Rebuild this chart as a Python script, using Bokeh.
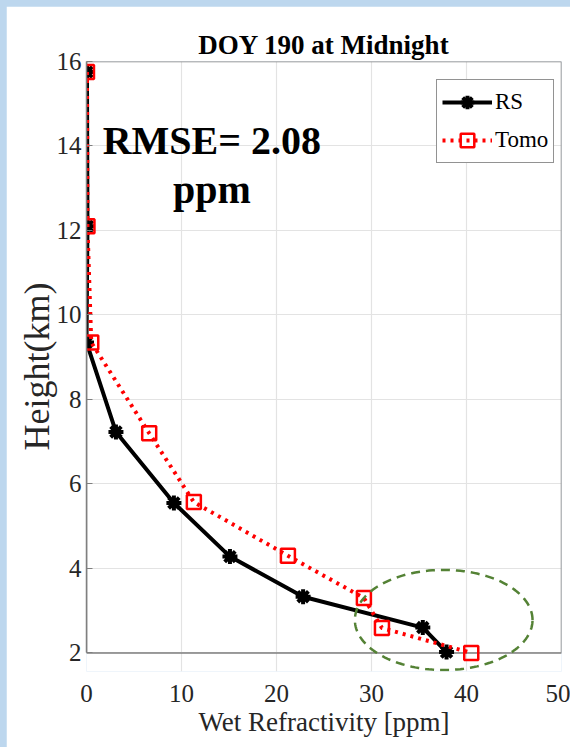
import numpy as np
from bokeh.plotting import figure
from bokeh.models import (Legend, LegendItem, PolyAnnotation, BoxAnnotation,
                          FixedTicker, Range1d)
from bokeh.layouts import column
from bokeh.embed import file_html
from bokeh.resources import INLINE
from bokeh.core.properties import value

# ---- data ----
rs_wet = [0.05, 0.1, 0.0, 3.1, 9.2, 15.1, 22.8, 35.4, 37.9]
rs_height = [15.75, 12.1, 9.35, 7.23, 5.55, 4.28, 3.33, 2.6, 2.02]
tomo_wet = [0.05, 0.1, 0.5, 6.6, 11.3, 21.2, 29.2, 31.1, 40.5]
tomo_height = [15.75, 12.1, 9.35, 7.2, 5.57, 4.3, 3.3, 2.59, 2.0]

x_ticks = [0, 10, 20, 30, 40, 50]
y_ticks = [2, 4, 6, 8, 10, 12, 14, 16]
x_lim = (0, 50)
y_lim = (2, 16)

title_text = "DOY 190 at Midnight"
x_label = "Wet Refractivity [ppm]"
y_label = "Height(km)"
series_names = ["RS", "Tomo"]

rmse_text = ["RMSE= 2.08", "ppm"]
rmse_x = [13.2, 13.2]
rmse_y = [14.14, 12.96]

# highlighted region (dashed ellipse, reaches below the axis)
ell_cx, ell_cy = 37.6, 2.78
ell_w, ell_h = 18.7, 2.37

SERIF = "Liberation Serif"
AX_GRAY = "#7f7f7f"
TXT = "#262626"

# the frame extends a little below y=2 so the ellipse is not cut off;
# the visible axes box is drawn from x_lim / y_lim
y_pad = 0.44

p = figure(frame_width=475, frame_height=610,
           x_range=Range1d(*x_lim), y_range=Range1d(y_lim[0] - y_pad, y_lim[1]),
           output_backend="svg", toolbar_location=None,
           min_border_left=80, min_border_right=9,
           min_border_top=55, min_border_bottom=76,
           title=title_text,
           x_axis_label=x_label, y_axis_label=y_label)
p.background_fill_color = "white"
p.border_fill_color = "white"
p.outline_line_color = None

p.title.text_font = SERIF
p.title.text_font_size = "27px"
p.title.text_font_style = "bold"
p.title.text_color = "black"
p.title.align = "center"
p.title.standoff = 3

xa = p.xaxis[0]
ya = p.yaxis[0]
for ax in (xa, ya):
    ax.major_label_text_font = SERIF
    ax.major_label_text_color = TXT
    ax.axis_label_text_font = SERIF
    ax.axis_label_text_color = TXT
    ax.axis_label_text_font_style = "normal"
    ax.major_label_text_font_size = "25px"
    ax.minor_tick_line_color = None
    ax.major_tick_line_color = AX_GRAY
    ax.major_tick_out = 0

xa.ticker = FixedTicker(ticks=x_ticks)
xa.axis_line_color = None
xa.major_tick_in = 0
xa.major_label_standoff = 13
xa.axis_label_text_font_size = "27px"
xa.axis_label_standoff = 2

ya.ticker = FixedTicker(ticks=y_ticks)
ya.bounds = y_lim
ya.axis_line_color = AX_GRAY
ya.axis_line_width = 1.5
ya.major_tick_in = 6
ya.major_label_standoff = 5
ya.axis_label_text_font_size = "36px"
ya.axis_label_standoff = -3

p.xgrid.ticker = FixedTicker(ticks=x_ticks)
p.ygrid.ticker = FixedTicker(ticks=y_ticks)
p.xgrid.bounds = y_lim
p.xgrid.grid_line_color = "#e3e3e3"
p.ygrid.grid_line_color = "#e3e3e3"
p.xgrid.grid_line_width = 1.2
p.ygrid.grid_line_width = 1.2

# axes box
p.add_layout(BoxAnnotation(left=x_lim[0], right=x_lim[1], bottom=y_lim[0], top=y_lim[1],
                           fill_color=None, fill_alpha=0, line_color=AX_GRAY,
                           line_alpha=1.0, line_width=1.5, level="underlay"))

rs_line = p.line(rs_wet, rs_height, line_color="black", line_width=4)
rs_pts = p.scatter(rs_wet, rs_height, marker="asterisk", size=15,
                   line_color="black", line_width=4)
tomo_line = p.line(tomo_wet, tomo_height, line_color="#ff0000", line_width=4,
                   line_dash="3 5")
tomo_pts = p.scatter(tomo_wet, tomo_height, marker="square", size=14,
                     line_color="#ff0000", line_width=2.5, fill_color="white",
                     fill_alpha=0.0)

p.text(x=rmse_x, y=rmse_y, text=rmse_text, text_font=value(SERIF),
       text_font_style="bold", text_font_size="40px", text_color="black",
       text_align="center", text_baseline="alphabetic")

t = np.linspace(0, 2 * np.pi, 160)
ell = PolyAnnotation(xs=list(ell_cx + ell_w / 2 * np.cos(t)),
                     ys=list(ell_cy + ell_h / 2 * np.sin(t)),
                     fill_color=None, fill_alpha=0.0, line_color="#548235",
                     line_alpha=1.0, line_width=2.5, line_dash="9 6")
p.add_layout(ell)

legend = Legend(items=[LegendItem(label=series_names[0], renderers=[rs_line, rs_pts]),
                       LegendItem(label=series_names[1], renderers=[tomo_line, tomo_pts])],
                location=(350, 508), margin=0)
legend.label_text_font = SERIF
legend.label_text_font_size = "23px"
legend.label_text_color = "black"
legend.glyph_width = 50
legend.glyph_height = 34
legend.label_height = 34
legend.label_standoff = 3
legend.spacing = 4
legend.padding = 5
legend.border_line_color = "#262626"
legend.border_line_width = 1.2
legend.background_fill_color = "white"
legend.background_fill_alpha = 1.0
p.add_layout(legend)

layout = column(p, styles={"background-color": "#bdd7ee", "padding-left": "6px",
                           "padding-top": "6px"})

open("out.html", "w").write(file_html(layout, INLINE))
